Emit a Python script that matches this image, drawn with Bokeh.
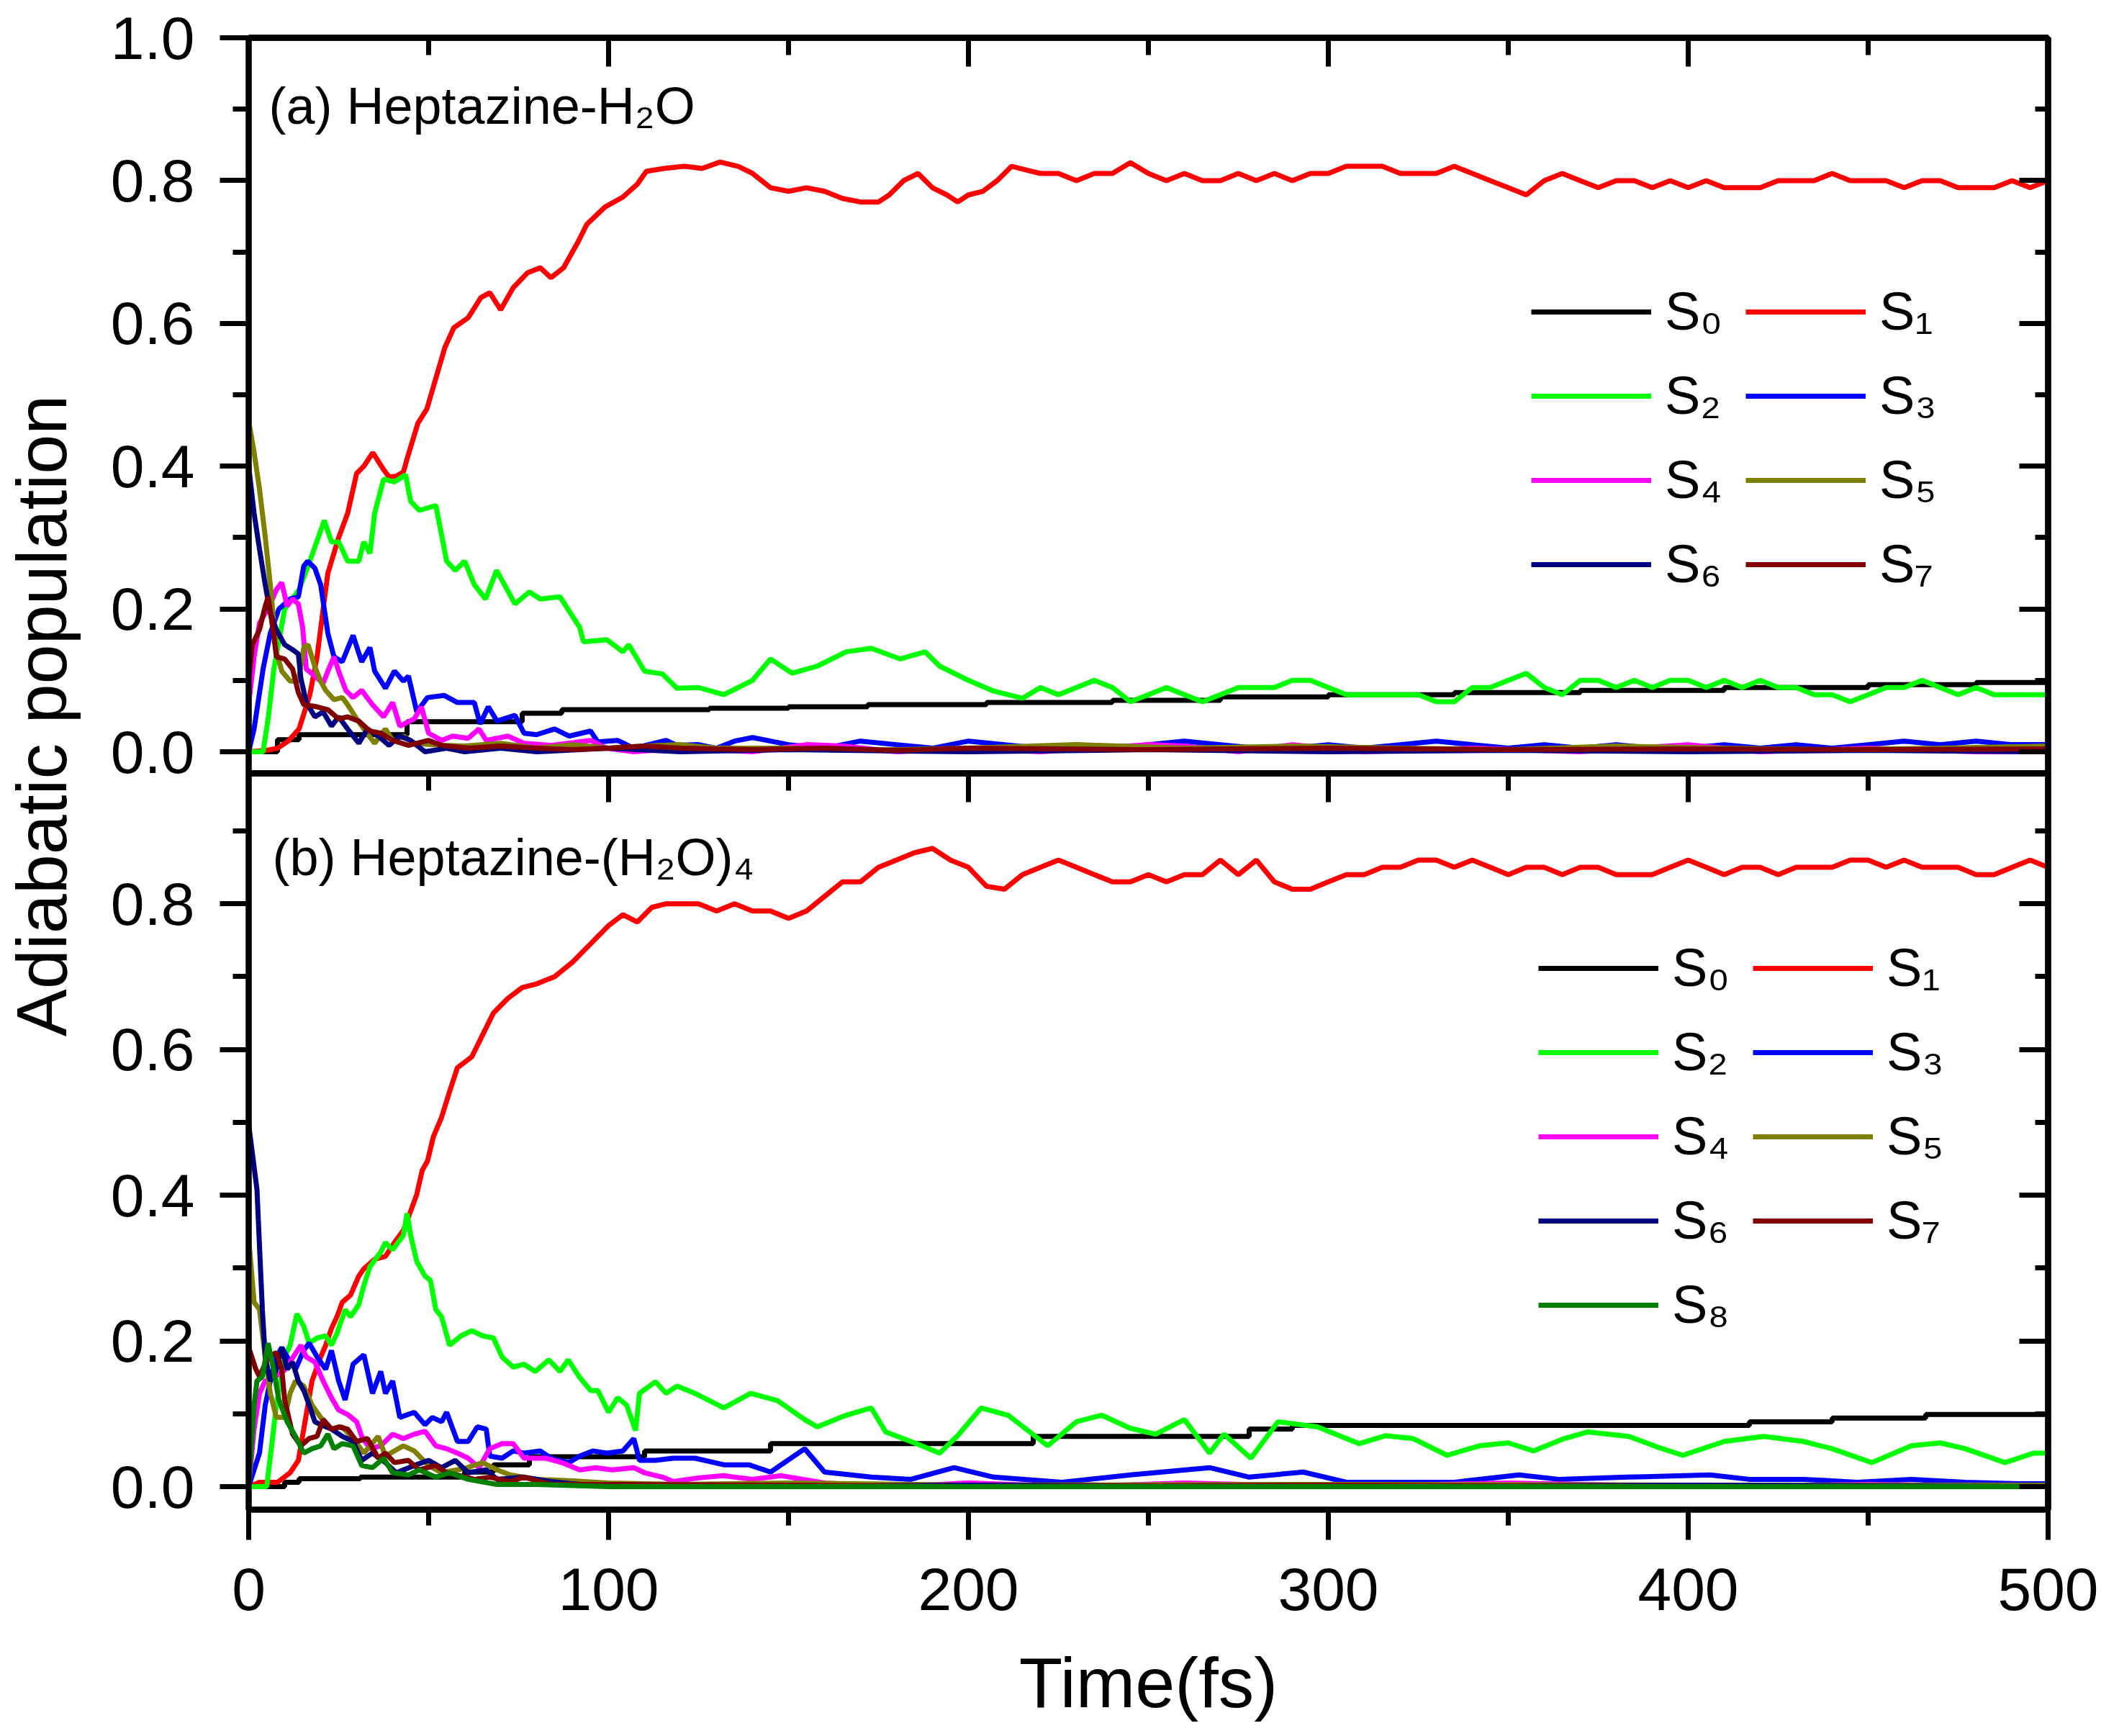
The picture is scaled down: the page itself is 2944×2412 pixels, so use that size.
import math
from bokeh.plotting import figure
from bokeh.models import Range1d, LinearAxis, Label, Legend, LegendItem, FixedTicker, PrintfTickFormatter
from bokeh.layouts import row, column
from bokeh.core.properties import value
from bokeh.embed import file_html
from bokeh.resources import INLINE

FONT = "Liberation Sans"

# ---------------- data: (time fs, population) ----------------
state_labels = ["S₀", "S₁", "S₂", "S₃", "S₄", "S₅", "S₆", "S₇", "S₈"]
state_colors = ["#000000", "#FF0000", "#00FF00", "#0000FF", "#FF00FF", "#808000", "#000080", "#800000", "#008000"]

x_major = [0, 100, 200, 300, 400, 500]
x_minor = [50, 150, 250, 350, 450]
ya_major = [0.0, 0.2, 0.4, 0.6, 0.8, 1.0]
ya_minor = [0.1, 0.3, 0.5, 0.7, 0.9]
yb_major = [0.0, 0.2, 0.4, 0.6, 0.8]
yb_minor = [0.1, 0.3, 0.5, 0.7, 0.9]

title_a = "(a) Heptazine-H₂O"
title_b = "(b) Heptazine-(H₂O)₄"
x_title = "Time(fs)"
y_title = "Adiabatic population"

# panel (a) Heptazine-H2O
a_s0 = [(0, 0), (8, 0.017), (14, 0.024), (44, 0.042), (76, 0.054), (87, 0.059), (128, 0.061), (150, 0.063),
        (172, 0.066), (205, 0.069), (240, 0.072), (270, 0.077), (300, 0.080), (335, 0.083), (370, 0.086),
        (410, 0.090), (450, 0.094), (480, 0.097), (500, 0.099)]
a_s1 = [(0, 0), (5, 0.002), (8, 0.005), (11, 0.015), (14, 0.032), (17, 0.08), (19, 0.133), (20.7, 0.2), (22, 0.25),
        (25, 0.30), (27.5, 0.334), (30, 0.39), (32, 0.40), (34.5, 0.419), (37.5, 0.395), (39, 0.385), (41, 0.386),
        (43, 0.392), (44, 0.41), (47, 0.46), (49.5, 0.48), (52, 0.523), (54.5, 0.566), (57, 0.594), (61, 0.608),
        (64.5, 0.636), (67, 0.643), (70, 0.619), (73.5, 0.65), (77.5, 0.671), (81, 0.678), (84, 0.664),
        (87.5, 0.678), (91.5, 0.714), (94, 0.739), (99, 0.763), (104, 0.777), (108, 0.795), (110.5, 0.813),
        (115.5, 0.817), (121, 0.82), (126, 0.817), (131, 0.826), (136, 0.82), (140, 0.81), (145, 0.79),
        (150, 0.785), (155, 0.79), (160, 0.785), (165, 0.775), (170, 0.77), (175, 0.77), (178, 0.78), (182, 0.80),
        (186, 0.81), (190, 0.79), (194, 0.78), (197, 0.77), (200, 0.78), (204, 0.785), (208, 0.80), (212, 0.82),
        (216, 0.815), (220, 0.81), (225, 0.81), (230, 0.80), (235, 0.81), (240, 0.81), (245, 0.825), (250, 0.81),
        (255, 0.80), (260, 0.81), (265, 0.80), (270, 0.80), (275, 0.81), (280, 0.80), (285, 0.81), (290, 0.80),
        (295, 0.81), (300, 0.81), (305, 0.82), (310, 0.82), (315, 0.82), (320, 0.81), (325, 0.81), (330, 0.81),
        (335, 0.82), (340, 0.81), (345, 0.80), (350, 0.79), (355, 0.78), (360, 0.80), (365, 0.81), (370, 0.80),
        (375, 0.79), (380, 0.80), (385, 0.80), (390, 0.79), (395, 0.80), (400, 0.79), (405, 0.80), (410, 0.79),
        (415, 0.79), (420, 0.79), (425, 0.80), (430, 0.80), (435, 0.80), (440, 0.81), (445, 0.80), (450, 0.80),
        (455, 0.80), (460, 0.79), (465, 0.80), (470, 0.80), (475, 0.79), (480, 0.79), (485, 0.79), (490, 0.80),
        (495, 0.79), (500, 0.80)]
a_s2 = [(0, 0), (4, 0.0), (5.5, 0.05), (7, 0.116), (10, 0.2), (14, 0.227), (17, 0.267), (21, 0.324), (23, 0.294),
        (25, 0.294), (27.5, 0.267), (30.6, 0.267), (32, 0.294), (33.7, 0.278), (35, 0.334), (37.5, 0.382),
        (40.5, 0.378), (43.6, 0.388), (45, 0.351), (47.4, 0.338), (52, 0.345), (55, 0.267), (57.4, 0.254),
        (60, 0.267), (62.7, 0.234), (65.8, 0.214), (68.9, 0.254), (74, 0.207), (78, 0.224), (81, 0.214),
        (86.5, 0.217), (92, 0.174), (93, 0.154), (99.5, 0.157), (104, 0.140), (105.6, 0.15), (110, 0.113),
        (115, 0.109), (119, 0.089), (125, 0.09), (132, 0.08), (140, 0.10), (145, 0.13), (151, 0.11), (158, 0.12),
        (166, 0.14), (173, 0.145), (181, 0.13), (188, 0.14), (192, 0.12), (200, 0.10), (207, 0.085), (215, 0.075),
        (220, 0.09), (225, 0.08), (230, 0.09), (235, 0.10), (240, 0.09), (245, 0.07), (250, 0.08), (255, 0.09),
        (260, 0.08), (265, 0.07), (270, 0.08), (275, 0.09), (280, 0.09), (285, 0.09), (290, 0.10), (295, 0.10),
        (300, 0.09), (305, 0.08), (310, 0.08), (315, 0.08), (320, 0.08), (325, 0.08), (330, 0.07), (335, 0.07),
        (340, 0.09), (345, 0.09), (350, 0.10), (355, 0.11), (360, 0.09), (365, 0.08), (370, 0.10), (375, 0.10),
        (380, 0.09), (385, 0.10), (390, 0.09), (395, 0.10), (400, 0.10), (405, 0.09), (410, 0.10), (415, 0.09),
        (420, 0.10), (425, 0.09), (430, 0.09), (435, 0.08), (440, 0.08), (445, 0.07), (450, 0.08), (455, 0.09),
        (460, 0.09), (465, 0.10), (470, 0.09), (475, 0.08), (480, 0.09), (485, 0.08), (490, 0.08), (495, 0.08),
        (500, 0.08)]
a_s3 = [(0, 0), (1.5, 0.032), (4, 0.116), (6, 0.166), (8.4, 0.2), (11.5, 0.214), (13.8, 0.217), (15.3, 0.26),
        (16.4, 0.267), (18.4, 0.257), (20, 0.234), (22, 0.166), (23.7, 0.133), (26, 0.126), (29, 0.163),
        (31.4, 0.126), (33.7, 0.146), (35, 0.113), (38, 0.089), (40.5, 0.113), (43, 0.099), (44.4, 0.106),
        (46.7, 0.056), (49.7, 0.076), (54.3, 0.079), (58, 0.069), (62.7, 0.069), (64.3, 0.039), (66.6, 0.063),
        (69, 0.043), (74, 0.051), (76.5, 0.026), (80, 0.024), (85, 0.032), (89, 0.022), (95, 0.029), (97, 0.014),
        (102.5, 0.016), (107, 0.005), (116, 0.016), (119, 0.009), (125, 0.01), (130, 0.005), (135, 0.015),
        (140, 0.02), (145, 0.015), (150, 0.01), (160, 0.005), (170, 0.015), (180, 0.01), (190, 0.005), (200, 0.015),
        (210, 0.01), (220, 0.005), (230, 0.01), (240, 0.005), (250, 0.01), (260, 0.015), (270, 0.01), (280, 0.005),
        (290, 0.005), (300, 0.01), (310, 0.005), (320, 0.01), (330, 0.015), (340, 0.01), (350, 0.005), (360, 0.01),
        (370, 0.005), (380, 0.01), (390, 0.005), (400, 0.005), (410, 0.01), (420, 0.005), (430, 0.01), (440, 0.005),
        (450, 0.01), (460, 0.015), (470, 0.01), (480, 0.015), (490, 0.01), (500, 0.01)]
a_s4 = [(0, 0.066), (1.5, 0.133), (3, 0.18), (6, 0.207), (7.7, 0.227), (9.2, 0.237), (10.7, 0.204), (12.2, 0.214),
        (13.8, 0.207), (15, 0.174), (16, 0.116), (18.4, 0.106), (20.7, 0.096), (22, 0.113), (23.7, 0.133),
        (25, 0.113), (27, 0.086), (29, 0.076), (31.4, 0.086), (34.4, 0.066), (37.5, 0.049), (40, 0.069), (42, 0.036),
        (46, 0.046), (48, 0.063), (50, 0.026), (53.6, 0.016), (56.6, 0.022), (61, 0.019), (64, 0.032), (66, 0.016),
        (72, 0.022), (76.5, 0.012), (84, 0.009), (95, 0.016), (99.5, 0.005), (107, 0.0), (120, 0.005), (140, 0.0),
        (155, 0.01), (165, 0.008), (180, 0.0), (200, 0.005), (220, 0.0), (250, 0.01), (260, 0.008), (275, 0.0),
        (290, 0.01), (310, 0.0), (340, 0.005), (370, 0.0), (400, 0.01), (420, 0.0), (450, 0.005), (480, 0.0),
        (500, 0.0)]
a_s5 = [(0, 0.463), (1.5, 0.42), (3, 0.368), (4.6, 0.301), (6, 0.234), (7.7, 0.14), (9.2, 0.113), (11.5, 0.099),
        (13.8, 0.099), (15.3, 0.146), (16.5, 0.15), (18.4, 0.119), (20, 0.099), (21.4, 0.086), (23.7, 0.073),
        (26, 0.076), (27.5, 0.066), (30, 0.046), (32, 0.032), (35, 0.012), (38, 0.032), (40, 0.016), (43, 0.022),
        (46, 0.012), (53.6, 0.009), (60, 0.008), (70, 0.012), (80, 0.005), (90, 0.01), (100, 0.005), (110, 0.008),
        (120, 0.01), (130, 0.005), (150, 0.005), (170, 0.002), (200, 0.005), (230, 0.01), (260, 0.005), (290, 0.008),
        (320, 0.005), (350, 0.003), (380, 0.008), (410, 0.005), (440, 0.003), (470, 0.005), (500, 0.008)]
a_s6 = [(0, 0.40), (1.5, 0.334), (3, 0.284), (4.6, 0.234), (6, 0.194), (7.7, 0.171), (10, 0.150), (12.2, 0.143),
        (13.8, 0.137), (14.5, 0.103), (16, 0.069), (18.4, 0.049), (20.7, 0.056), (23, 0.036), (25, 0.049),
        (27.5, 0.032), (30.6, 0.012), (33, 0.032), (36, 0.022), (39, 0.009), (42, 0.022), (45, 0.016), (49, 0.0),
        (55, 0.005), (60, 0.0), (70, 0.005), (80, 0.0), (100, 0.005), (120, 0.0), (150, 0.003), (200, 0.0),
        (250, 0.003), (300, 0.0), (350, 0.002), (400, 0.0), (450, 0.002), (500, 0.0)]
a_s7 = [(0, 0.099), (1, 0.15), (3, 0.171), (4.6, 0.204), (5.4, 0.217), (6.9, 0.166), (7.7, 0.133), (10, 0.13),
        (12.2, 0.116), (13.8, 0.083), (15.3, 0.066), (19, 0.063), (22, 0.059), (25, 0.046), (27.5, 0.049),
        (30.6, 0.043), (33.7, 0.029), (36.7, 0.026), (40, 0.016), (44.4, 0.009), (50, 0.016), (53.6, 0.009),
        (61, 0.005), (70, 0.008), (80, 0.005), (90, 0.003), (100, 0.005), (110, 0.008), (120, 0.005), (140, 0.003),
        (160, 0.005), (180, 0.002), (200, 0.005), (250, 0.003), (300, 0.005), (350, 0.003), (400, 0.004),
        (450, 0.003), (500, 0.004)]

# panel (b) Heptazine-(H2O)4
b_s0 = [(0, 0), (10, 0.006), (14, 0.011), (31, 0.013), (60, 0.02), (68, 0.03), (78, 0.041), (110, 0.049),
        (145, 0.059), (218, 0.069), (278, 0.079), (290, 0.084), (417, 0.089), (440, 0.094), (466, 0.099),
        (500, 0.099)]
b_s1 = [(0, 0), (3, 0.006), (8, 0.006), (11.5, 0.019), (13.8, 0.036), (15.3, 0.079), (17.6, 0.145), (20, 0.178),
        (21.4, 0.194), (23, 0.217), (24.5, 0.233), (26, 0.253), (28.3, 0.263), (30.6, 0.289), (32, 0.299),
        (35, 0.312), (38, 0.316), (40.5, 0.335), (43, 0.352), (45, 0.378), (46.7, 0.401), (48.2, 0.434),
        (49.7, 0.447), (51.3, 0.48), (53.6, 0.507), (56, 0.545), (58, 0.575), (62, 0.59), (65, 0.62), (68, 0.65),
        (72, 0.67), (76, 0.685), (80, 0.69), (85, 0.70), (90, 0.72), (95, 0.745), (100, 0.77), (104, 0.785),
        (108, 0.775), (112, 0.795), (116, 0.80), (120, 0.80), (125, 0.80), (130, 0.79), (135, 0.80), (140, 0.79),
        (145, 0.79), (150, 0.78), (155, 0.79), (160, 0.81), (165, 0.83), (170, 0.83), (175, 0.85), (180, 0.86),
        (185, 0.87), (190, 0.876), (195, 0.86), (200, 0.85), (205, 0.824), (210, 0.82), (215, 0.84), (220, 0.85),
        (225, 0.86), (230, 0.85), (235, 0.84), (240, 0.83), (245, 0.83), (250, 0.84), (255, 0.83), (260, 0.84),
        (265, 0.84), (270, 0.86), (275, 0.84), (280, 0.86), (285, 0.83), (290, 0.82), (295, 0.82), (300, 0.83),
        (305, 0.84), (310, 0.84), (315, 0.85), (320, 0.85), (325, 0.86), (330, 0.86), (335, 0.85), (340, 0.86),
        (345, 0.85), (350, 0.84), (355, 0.85), (360, 0.85), (365, 0.84), (370, 0.85), (375, 0.85), (380, 0.84),
        (385, 0.84), (390, 0.84), (395, 0.85), (400, 0.86), (405, 0.85), (410, 0.84), (415, 0.85), (420, 0.85),
        (425, 0.84), (430, 0.85), (435, 0.85), (440, 0.85), (445, 0.86), (450, 0.86), (455, 0.85), (460, 0.86),
        (465, 0.85), (470, 0.85), (475, 0.85), (480, 0.84), (485, 0.84), (490, 0.85), (495, 0.86), (500, 0.85)]
b_s2 = [(0, 0), (5, 0.0), (6, 0.04), (7.7, 0.112), (10, 0.178), (11.5, 0.194), (13.4, 0.237), (15.3, 0.22),
        (16.8, 0.197), (19, 0.204), (21.4, 0.207), (23, 0.194), (24.5, 0.21), (26.8, 0.243), (28.3, 0.233),
        (30.6, 0.25), (32, 0.276), (33.7, 0.302), (36.7, 0.322), (38, 0.335), (40, 0.325), (43, 0.345), (44, 0.375),
        (45, 0.345), (46.7, 0.309), (49, 0.289), (50.5, 0.283), (52, 0.243), (53.6, 0.233), (55.8, 0.194),
        (59, 0.207), (62, 0.214), (65, 0.207), (68, 0.204), (70.4, 0.178), (73.5, 0.164), (76.5, 0.168),
        (79.6, 0.158), (83.4, 0.174), (86.5, 0.158), (88.8, 0.174), (91.8, 0.151), (95, 0.132), (97, 0.132),
        (100, 0.102), (102.5, 0.122), (105, 0.112), (107.5, 0.077), (108.6, 0.128), (113, 0.144), (116, 0.128),
        (119, 0.138), (124, 0.128), (132, 0.108), (139.5, 0.128), (147, 0.118), (154.5, 0.092), (158, 0.082),
        (166, 0.098), (173, 0.108), (177, 0.075), (185, 0.06), (192, 0.046), (197, 0.07), (203.5, 0.108),
        (211, 0.098), (222, 0.056), (230, 0.089), (237, 0.098), (245, 0.08), (252, 0.072), (260, 0.092),
        (267, 0.046), (271, 0.072), (278.5, 0.039), (286, 0.089), (297, 0.082), (308.5, 0.059), (316, 0.07),
        (323.5, 0.066), (333, 0.043), (342, 0.056), (350, 0.06), (357, 0.049), (365, 0.065), (372, 0.075),
        (383.5, 0.069), (391, 0.055), (398.5, 0.043), (410, 0.062), (421, 0.069), (432, 0.062), (440, 0.052),
        (451, 0.033), (462, 0.056), (470, 0.06), (477, 0.052), (488, 0.033), (496, 0.046), (500, 0.046)]
b_s3 = [(0, 0), (3, 0.046), (4.6, 0.112), (6, 0.145), (7.7, 0.178), (9.2, 0.191), (10.7, 0.178), (13, 0.161),
        (15.3, 0.187), (16.8, 0.197), (19, 0.178), (21.4, 0.161), (23, 0.187), (25, 0.145), (26.8, 0.119),
        (29, 0.168), (32, 0.181), (34.4, 0.128), (36.7, 0.158), (38, 0.128), (40, 0.145), (42, 0.095), (46, 0.102),
        (49, 0.085), (51, 0.095), (53.6, 0.089), (55, 0.102), (58, 0.062), (61, 0.062), (63.5, 0.082), (66, 0.079),
        (67, 0.042), (70.4, 0.039), (73.5, 0.049), (76.5, 0.046), (81, 0.049), (84, 0.039), (89, 0.033), (92, 0.042),
        (95.6, 0.049), (99.5, 0.046), (104, 0.049), (107, 0.066), (108.6, 0.036), (113, 0.036), (118, 0.039),
        (124, 0.039), (132, 0.03), (139, 0.03), (145, 0.02), (154.5, 0.052), (160, 0.02), (173, 0.013), (184, 0.01),
        (196, 0.026), (207, 0.013), (226, 0.006), (245, 0.016), (267, 0.026), (278, 0.013), (293, 0.02),
        (305, 0.006), (320, 0.006), (335, 0.006), (353, 0.016), (364, 0.01), (383, 0.013), (406, 0.016),
        (417, 0.01), (432, 0.01), (447, 0.006), (462, 0.01), (477, 0.006), (492, 0.004), (500, 0.004)]
b_s4 = [(0, 0), (1.5, 0.079), (3, 0.128), (4.6, 0.145), (7, 0.15), (10, 0.16), (12, 0.175), (14.5, 0.194),
        (16, 0.178), (18.4, 0.171), (20.7, 0.145), (23, 0.122), (25, 0.105), (27.5, 0.099), (30, 0.089),
        (31.4, 0.069), (33.7, 0.052), (36.7, 0.056), (40, 0.072), (43, 0.066), (46, 0.072), (49, 0.076), (52, 0.056),
        (55, 0.052), (58, 0.046), (61, 0.039), (64, 0.026), (67, 0.052), (70.4, 0.059), (73.5, 0.059),
        (76.5, 0.039), (82.6, 0.039), (87, 0.033), (92, 0.023), (96.4, 0.026), (101, 0.023), (107, 0.026),
        (110, 0.019), (115, 0.013), (118, 0.007), (125, 0.012), (132, 0.015), (140, 0.01), (148, 0.015),
        (160, 0.005), (180, 0.0), (200, 0.005), (230, 0.0), (260, 0.005), (300, 0.0), (350, 0.005), (400, 0.0),
        (450, 0.003), (500, 0.0)]
b_s5 = [(0, 0.342), (1.5, 0.253), (3, 0.243), (4.6, 0.178), (6, 0.128), (7.7, 0.095), (10, 0.095), (11.5, 0.128),
        (13, 0.145), (15.3, 0.138), (17.6, 0.112), (20, 0.095), (23, 0.079), (26, 0.082), (29, 0.066), (32, 0.046),
        (36, 0.069), (38, 0.042), (43, 0.056), (46, 0.049), (50, 0.029), (53.6, 0.019), (60, 0.025), (65, 0.033),
        (69, 0.023), (72.7, 0.016), (80, 0.01), (90, 0.008), (100, 0.005), (120, 0.003), (150, 0.005), (200, 0.002),
        (300, 0.003), (400, 0.002), (500, 0.002)]
b_s6 = [(0, 0.497), (2.3, 0.408), (3.8, 0.243), (4.6, 0.178), (6, 0.145), (7.7, 0.161), (9.2, 0.191),
        (10.7, 0.161), (12.2, 0.171), (13.8, 0.145), (15.3, 0.132), (16.8, 0.112), (18.4, 0.089), (20, 0.085),
        (23, 0.079), (26, 0.069), (29, 0.062), (31.4, 0.036), (34.4, 0.046), (38, 0.033), (41, 0.019), (46, 0.029),
        (50, 0.036), (53.6, 0.026), (57.4, 0.036), (61, 0.019), (66, 0.023), (69, 0.01), (76.5, 0.013), (84, 0.007),
        (92, 0.003), (100, 0.003), (130, 0.0), (200, 0.002), (300, 0.0), (400, 0.002), (500, 0.0)]
b_s7 = [(0, 0.191), (2, 0.161), (3, 0.151), (5.4, 0.178), (7.7, 0.184), (9.2, 0.161), (10, 0.119), (12.2, 0.072),
        (14.5, 0.056), (16.8, 0.066), (19, 0.069), (20.7, 0.092), (23, 0.079), (25, 0.082), (27.5, 0.079),
        (30, 0.062), (33, 0.066), (36, 0.039), (38, 0.046), (40.5, 0.033), (44.4, 0.036), (47.4, 0.023), (52, 0.029),
        (55, 0.019), (58, 0.016), (62.7, 0.01), (67, 0.013), (72.7, 0.007), (76.5, 0.013), (84, 0.003), (100, 0.003),
        (150, 0.002), (200, 0.0), (300, 0.002), (400, 0.0), (500, 0.0)]
b_s8 = [(0, 0), (1.5, 0.112), (2.3, 0.145), (3.8, 0.151), (5.4, 0.197), (6.9, 0.161), (8.4, 0.119), (10.7, 0.089),
        (13, 0.069), (15.3, 0.046), (17.6, 0.052), (20, 0.056), (22, 0.072), (23.7, 0.052), (26, 0.059), (29, 0.056),
        (31.4, 0.029), (34.4, 0.026), (37.5, 0.039), (40, 0.019), (44.4, 0.016), (47.4, 0.023), (52, 0.013),
        (55.8, 0.019), (61, 0.01), (69, 0.003), (80, 0.003), (100, 0.0), (500, 0.0)]

panel_a = [a_s0, a_s1, a_s2, a_s3, a_s4, a_s5, a_s6, a_s7]
panel_b = [b_s0, b_s1, b_s2, b_s3, b_s4, b_s5, b_s6, b_s7, b_s8]

# ---------------- layout ----------------
TOTAL_W, TOTAL_H = 2928, 2396
LABEL_W = 120
PW = TOTAL_W - LABEL_W
FRAME_A = 1022          # height of frame (a)
FRAME_B = 1023          # height of frame (b)
TOP_A = 52              # border above frame (a)
EXT = 24                # each panel canvas reaches EXT px past the shared frame edge
BOT_B = 180             # border below frame (b) (tick labels)
H1 = TOP_A + FRAME_A + EXT
H2 = EXT + FRAME_B + BOT_B
HX = TOTAL_H - (TOP_A + FRAME_A) - FRAME_B - BOT_B   # strip holding the x title
BORDER_L = 345 - LABEL_W
BORDER_R = 83
LINE_W = 7
TICK_FONT = "84px"


def base_axis(ax):
    ax.axis_line_width = 8
    ax.axis_line_color = "black"
    ax.major_tick_line_width = 7
    ax.minor_tick_line_width = 7
    ax.major_tick_line_color = "black"
    ax.minor_tick_line_color = "black"


def labelled_axis(p, side, major, minor, major_len, minor_len, standoff, fmt=None):
    ax = LinearAxis(ticker=FixedTicker(ticks=major, minor_ticks=minor))
    base_axis(ax)
    ax.major_tick_in, ax.major_tick_out = 0, major_len
    ax.minor_tick_in, ax.minor_tick_out = 0, minor_len
    ax.major_label_text_font = FONT
    ax.major_label_text_font_size = TICK_FONT
    ax.major_label_text_color = "black"
    ax.major_label_standoff = standoff
    if fmt is not None:
        ax.formatter = fmt
    p.add_layout(ax, side)


def inward_ticks(p, side, positions, length):
    # tick marks only (no labels): drawn as "minor" ticks pointing into the frame
    ax = LinearAxis(ticker=FixedTicker(ticks=[], minor_ticks=positions))
    base_axis(ax)
    ax.major_tick_in, ax.major_tick_out = 0, 0
    ax.minor_tick_in, ax.minor_tick_out = length, 0
    ax.major_label_standoff = 0
    p.add_layout(ax, side)


def make_panel(height, y_lo, y_hi, ymaj, ymin, border_top, border_bottom):
    p = figure(width=PW, height=height, x_range=Range1d(0, 500), y_range=Range1d(y_lo, y_hi),
               output_backend="svg", toolbar_location=None, x_axis_location=None, y_axis_location=None,
               min_border_left=BORDER_L, min_border_right=BORDER_R,
               min_border_top=border_top, min_border_bottom=border_bottom)
    p.grid.visible = False
    p.outline_line_color = "black"
    p.outline_line_width = 8
    labelled_axis(p, "left", ymaj, ymin, 40, 22, 35, PrintfTickFormatter(format="%.1f"))
    inward_ticks(p, "right", ymaj, 40)
    inward_ticks(p, "right", ymin, 18)
    inward_ticks(p, "above", x_major, 40)
    inward_ticks(p, "above", x_minor, 24)
    return p


def draw_series(p, series_list):
    rends = []
    for i, pts in enumerate(series_list):
        xs = [q[0] for q in pts]
        ys = [q[1] for q in pts]
        if i == 0:
            r = p.step(xs, ys, mode="after", line_color=state_colors[i], line_width=LINE_W)
        else:
            r = p.line(xs, ys, line_color=state_colors[i], line_width=LINE_W)
        rends.append(r)
    return rends


def add_legend(p, rends, loc):
    n = len(rends)
    # two columns read row by row: S0 S1 / S2 S3 / ...
    order = list(range(0, n, 2)) + list(range(1, n, 2))
    items = [LegendItem(label=value(state_labels[i]), renderers=[rends[i]]) for i in order]
    leg = Legend(items=items, ncols=2, location=loc, glyph_width=167, glyph_height=30,
                 label_standoff=19, spacing=32, padding=0, margin=0,
                 border_line_color=None, background_fill_alpha=0,
                 label_text_font=FONT, label_text_font_size="74px", label_text_color="black")
    p.add_layout(leg, "center")


def text_strip(width, height):
    s = figure(width=width, height=height, x_range=Range1d(0, 1), y_range=Range1d(0, 1),
               output_backend="svg", toolbar_location=None, x_axis_location=None, y_axis_location=None,
               min_border=0)
    s.grid.visible = False
    s.outline_line_color = None
    s.border_fill_color = "white"
    s.background_fill_color = "white"
    return s


# top panel
p1 = make_panel(H1, -0.0302, 1.0, ya_major, ya_minor, TOP_A, EXT)
r1 = draw_series(p1, panel_a)
add_legend(p1, r1, (1782, 248))
p1.add_layout(Label(x=28, y=FRAME_A - 94, x_units="screen", y_units="screen", text=title_a,
                    text_font=FONT, text_font_size="72px", text_color="black", text_baseline="middle"))

# bottom panel (its canvas is pulled up so that both frames share one edge)
p2 = make_panel(H2, -0.0316, 0.979, yb_major, yb_minor, EXT, BOT_B)
labelled_axis(p2, "below", x_major, x_minor, 42, 22, 39)
p2.border_fill_alpha = 0
p2.background_fill_alpha = 0
p2.margin = (-2 * EXT, 0, 0, 0)
r2 = draw_series(p2, panel_b)
add_legend(p2, r2, (1792, 242))
p2.add_layout(Label(x=33, y=FRAME_B - 116, x_units="screen", y_units="screen", text=title_b,
                    text_font=FONT, text_font_size="72px", text_color="black", text_baseline="middle"))

# x-axis title strip under the bottom panel (its frame is aligned with the panels' frames)
px = text_strip(PW, HX)
px.add_layout(Label(x=1250, y=HX - 60, x_units="screen", y_units="screen", text=x_title,
                    text_align="center", text_baseline="middle",
                    text_font=FONT, text_font_size="99px", text_color="black"))

# shared y-axis title strip
pl = text_strip(LABEL_W, TOTAL_H)
pl.add_layout(Label(x=57, y=TOTAL_H - 994, x_units="screen", y_units="screen", text=y_title,
                    angle=math.pi / 2, text_align="center", text_baseline="middle",
                    text_font=FONT, text_font_size="99px", text_color="black"))

layout = row(pl, column(p1, p2, px))
open("out.html", "w").write(file_html(layout, INLINE))
